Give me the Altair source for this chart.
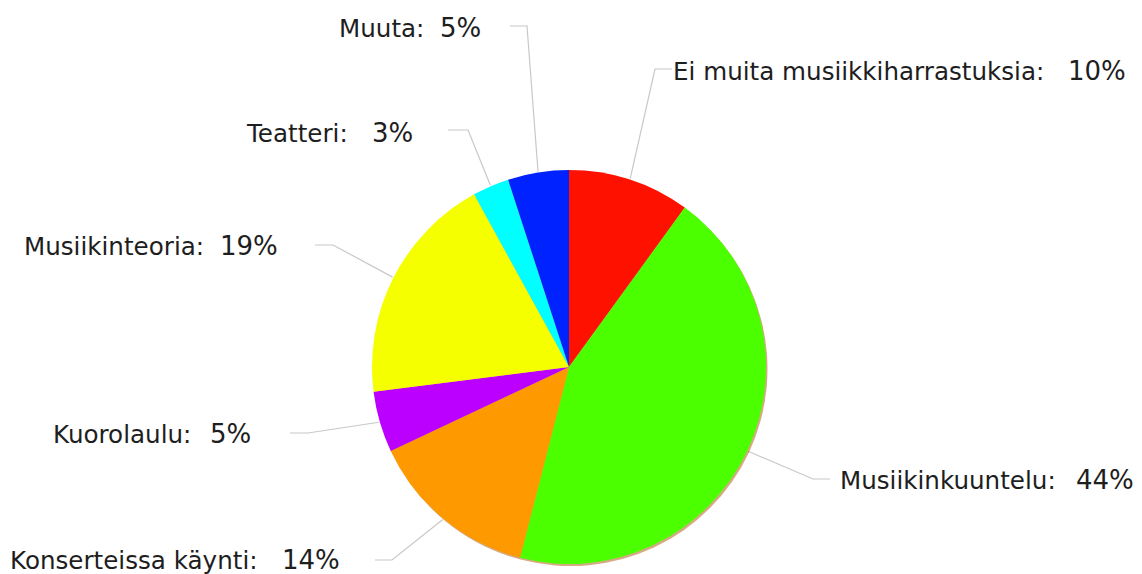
import math
import altair as alt
import pandas as pd

# ---- data ----
categories = ["Ei muita musiikkiharrastuksia", "Musiikinkuuntelu", "Konserteissa käynti",
              "Kuorolaulu", "Musiikinteoria", "Teatteri", "Muuta"]
values = [10, 44, 14, 5, 19, 3, 5]
colors = ["#ff1100", "#4cff00", "#ff9900", "#bb00ff", "#f5ff00", "#00ffff", "#0022ff"]

# ---- layout (page pixel coordinates) ----
W, H = 1126, 566
CX, CY, R = 569, 367, 198
elbows = [(655, 69), (813, 479), (392, 560), (308, 433), (333, 245), (468, 130), (527, 26)]
ends = [(672, 69), (830, 479), (375, 560), (290, 433), (315, 245), (448, 130), (510, 26)]
name_x = [673, 840, 10, 53, 24, 247, 339]
pct_x = [1068, 1076, 282, 210, 220, 372, 440]
base_y = [80, 489, 569, 443, 255, 142, 37]

pie_df = pd.DataFrame({"cat": categories, "value": values, "order": list(range(len(values)))})

total = sum(values)
rows = []
cum = 0
for i, (c, v) in enumerate(zip(categories, values)):
    mid = (cum + v / 2) / total * 2 * math.pi
    cum += v
    sx = CX + R * math.sin(mid)
    sy = CY - R * math.cos(mid)
    for j, (px, py) in enumerate([(sx, sy), elbows[i], ends[i]]):
        rows.append({"cat": c, "seq": j, "x": px, "y": py})
line_df = pd.DataFrame(rows)

text_df = pd.DataFrame({
    "name": [c + ":" for c in categories],
    "pct": [f"{v}%" for v in values],
    "nx": name_x, "px": pct_x, "by": base_y,
})

xs = alt.Scale(domain=[8, 8 + W], nice=False, zero=False)
ys = alt.Scale(domain=[8, 8 + H], nice=False, zero=False, reverse=True)

shadow = alt.Chart(pie_df).mark_arc(radius=R - 1, color="#b5651d", opacity=0.55).encode(
    theta=alt.Theta("value:Q", stack=True),
    order=alt.Order("order:Q"),
    x=alt.value(CX - 8 + 1.5),
    y=alt.value(CY - 8 + 2),
)

pie = alt.Chart(pie_df).mark_arc(radius=R - 1).encode(
    theta=alt.Theta("value:Q", stack=True),
    order=alt.Order("order:Q"),
    color=alt.Color("cat:N", scale=alt.Scale(domain=categories, range=colors), legend=None),
    x=alt.value(CX - 8),
    y=alt.value(CY - 8),
)

lines = alt.Chart(line_df).mark_line(color="#c8c8c8", strokeWidth=1.2).encode(
    x=alt.X("x:Q", scale=xs, axis=None),
    y=alt.Y("y:Q", scale=ys, axis=None),
    detail="cat:N",
    order="seq:Q",
)

names = alt.Chart(text_df).mark_text(
    align="left", baseline="alphabetic", font="DejaVu Sans", fontSize=24.6, color="#1e1e1e"
).encode(
    x=alt.X("nx:Q", scale=xs, axis=None),
    y=alt.Y("by:Q", scale=ys, axis=None),
    text="name:N",
)

pcts = alt.Chart(text_df).mark_text(
    align="left", baseline="alphabetic", font="DejaVu Sans", fontSize=26, color="#1e1e1e"
).encode(
    x=alt.X("px:Q", scale=xs, axis=None),
    y=alt.Y("by:Q", scale=ys, axis=None),
    text="pct:N",
)

chart = alt.layer(lines, shadow, pie, names, pcts).properties(
    width=W, height=H, padding=0, autosize=alt.AutoSizeParams(type="none")
).configure_view(stroke=None)

chart.save("out.html", embed_options={"renderer": "svg", "actions": False})
